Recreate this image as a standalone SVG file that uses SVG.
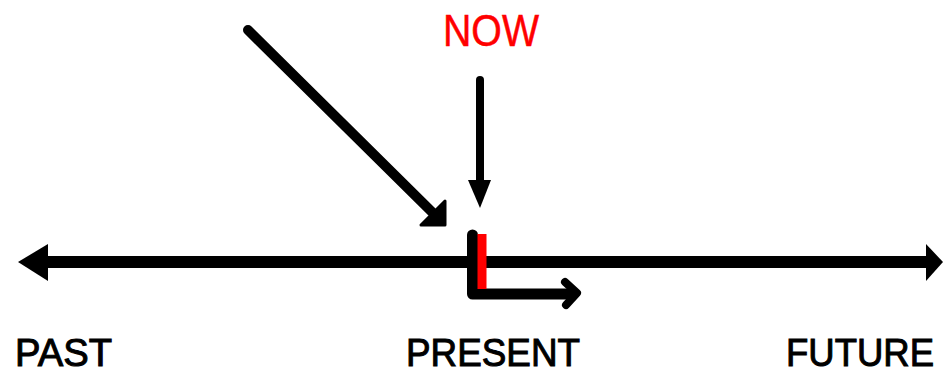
<svg xmlns="http://www.w3.org/2000/svg" width="943" height="375" viewBox="0 0 943 375">
<style>
.lbl{font-family:"Liberation Sans","DejaVu Sans",sans-serif;font-size:39px;fill:#000;stroke:#000;stroke-width:1}
.now{font-family:"Liberation Sans","DejaVu Sans",sans-serif;font-size:44px;fill:#ff0000;stroke:#ff0000;stroke-width:0.5}
.ln{stroke:#000;stroke-linecap:round;fill:none}
</style>
<rect width="943" height="375" fill="#fff"/>
<g id="connectors">
  <g id="timeline">
    <line class="ln" x1="40" y1="262" x2="930" y2="262" stroke-width="12" stroke-linecap="butt"/>
    <polygon points="18,262 48,244 48,281" fill="#000"/>
    <polygon points="943,262 926,244 926,281" fill="#000"/>
  </g>
  <g id="diag-arrow">
    <line class="ln" x1="248" y1="30" x2="432" y2="212" stroke-width="10"/>
    <polygon points="445,201 445,225 421,225" fill="#000" stroke="#000" stroke-width="3" stroke-linejoin="round"/>
  </g>
  <g id="now-arrow">
    <line class="ln" x1="480" y1="80" x2="480" y2="185" stroke-width="8" stroke-linecap="butt"/>
    <polygon points="468,180 491,180 480,208" fill="#000"/>
  </g>
  <g id="present-arrow">
    <path d="M472.5,235 V294 H573" class="ln" stroke-width="11" stroke-linejoin="round"/>
    <path d="M565,282 L577,293 L566,305" class="ln" stroke-width="8" stroke-linejoin="round"/>
    <rect x="477.5" y="234" width="9" height="55" fill="#ff0000"/>
  </g>
</g>
<g id="now"><text class="now" x="443" y="46" textLength="96" lengthAdjust="spacingAndGlyphs">NOW</text></g>
<g id="past"><text class="lbl" x="15" y="366" textLength="97" lengthAdjust="spacingAndGlyphs">PAST</text></g>
<g id="present"><text class="lbl" x="406" y="366" textLength="174" lengthAdjust="spacingAndGlyphs">PRESENT</text></g>
<g id="future"><text class="lbl" x="786" y="366" textLength="148" lengthAdjust="spacingAndGlyphs">FUTURE</text></g>
</svg>
